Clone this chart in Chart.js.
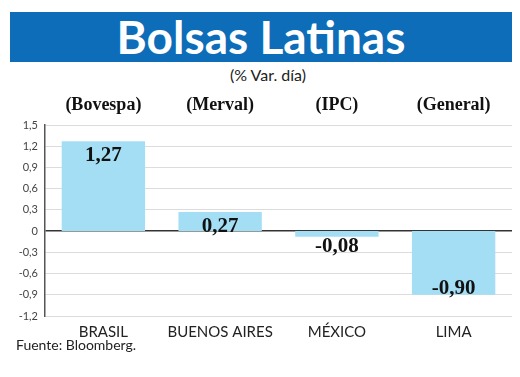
<!DOCTYPE html>
<html>
<head>
<meta charset="utf-8">
<script src="https://cdn.jsdelivr.net/npm/chart.js"></script>
<style>
  body { margin: 0; background: #fff; width: 520px; height: 377px; overflow: hidden; position: relative; }
  #banner { position: absolute; left: 10px; top: 12px; width: 502px; height: 50px; background: #0d6db8;
            color: #fff; font: bold 46px Lato, sans-serif; text-align: center; line-height: 50px; }
  #sub { position: absolute; left: 0; width: 536px; top: 65px; text-align: center; font: 16px Lato, sans-serif; color: #222; }
  #src { position: absolute; left: 16px; top: 336px; font: 14px Lato, sans-serif; color: #222; }
  canvas { position: absolute; left: 0; top: 0; }
</style>
</head>
<body>
<div id="banner">Bolsas Latinas</div>
<div id="sub">(% Var. día)</div>
<canvas id="chart" width="520" height="377"></canvas>
<div id="src">Fuente: Bloomberg.</div>
<script>
const categories = ['BRASIL', 'BUENOS AIRES', 'MÉXICO', 'LIMA'];
const indexNames = ['(Bovespa)', '(Merval)', '(IPC)', '(General)'];
const variation = [1.27, 0.27, -0.08, -0.90];
const yMin = -1.2, yMax = 1.5, yStep = 0.3;

const fmt = v => Math.abs(v) < 1e-9 ? '0' : v.toFixed(1).replace('.', ',');

// value labels, bold serif like the print version
const valueLabels = {
    id: 'valueLabels',
    afterDatasetsDraw(chart) {
        const c = chart.ctx;
        const meta = chart.getDatasetMeta(0);
        c.save();
        c.font = 'bold 21px "Liberation Serif", serif';
        c.fillStyle = '#111';
        c.textAlign = 'center';
        c.textBaseline = 'alphabetic';
        meta.data.forEach((bar, i) => {
            const v = variation[i];
            const txt = v.toFixed(2).replace('.', ',');
            let y;
            if (v >= 0) y = bar.y + 20;
            else if (bar.y - bar.base > 30) y = bar.y - 1;
            else y = bar.y + 15;
            c.fillText(txt, bar.x, y);
        });
        c.restore();
    }
};

new Chart(document.getElementById('chart'), {
    type: 'bar',
    data: {
        labels: categories,
        datasets: [{
            data: variation,
            backgroundColor: '#a3def5',
            categoryPercentage: 1,
            barPercentage: 0.714
        }]
    },
    options: {
        responsive: false,
        animation: false,
        layout: { padding: { left: 0, right: 8, top: 0, bottom: 0 } },
        plugins: { legend: { display: false }, tooltip: { enabled: false } },
        scales: {
            x: {
                position: 'bottom',
                grid: { display: false, drawTicks: false },
                border: { display: false },
                ticks: { color: '#222', font: { family: 'Lato', size: 15 }, padding: 7, maxRotation: 0, autoSkip: false },
                afterFit: s => { s.height = 61; }
            },
            xTop: {
                type: 'category',
                position: 'top',
                labels: indexNames,
                grid: { display: false, drawTicks: false },
                border: { display: false },
                ticks: { color: '#111', font: { family: 'Liberation Serif', size: 18, weight: 'bold' }, padding: 9, maxRotation: 0, autoSkip: false },
                afterFit: s => { s.height = 125; }
            },
            y: {
                min: yMin,
                max: yMax,
                ticks: { stepSize: yStep, callback: v => fmt(v), color: '#444', font: { family: 'Lato', size: 11 }, padding: 7 },
                grid: {
                    drawTicks: false,
                    color: c => Math.abs(c.tick.value) < 1e-9 ? '#333' : '#dcdcdc',
                    lineWidth: c => Math.abs(c.tick.value) < 1e-9 ? 1.5 : 1
                },
                border: { display: true, color: '#555', width: 1.5 },
                afterFit: s => { s.width = 45; }
            }
        }
    },
    plugins: [valueLabels]
});
</script>
</body>
</html>
